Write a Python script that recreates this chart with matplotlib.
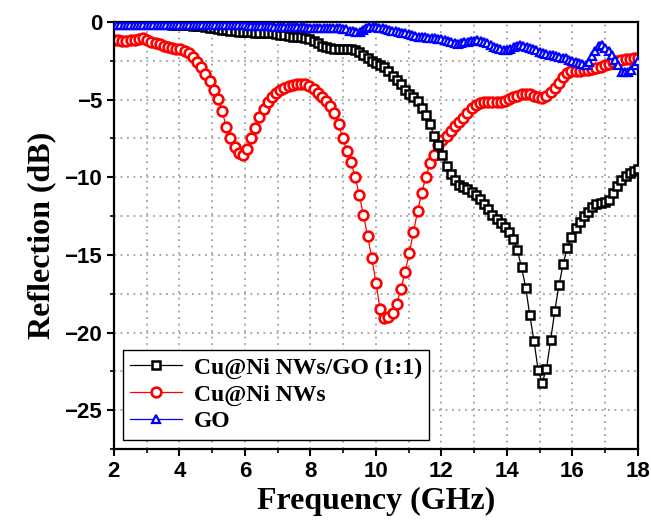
import numpy as np
import matplotlib
matplotlib.use("Agg")
import matplotlib.pyplot as plt

# frequency sweep, 2-18 GHz
freq = np.linspace(2, 18, 127)
freq_go = np.linspace(2, 18, 161)

# Cu@Ni NWs/GO (1:1)
refl_hybrid = [
    -0.1, -0.1, -0.1, -0.11, -0.11, -0.12, -0.12, -0.13,
    -0.13, -0.14, -0.14, -0.15, -0.15, -0.16, -0.17, -0.18,
    -0.19, -0.2, -0.22, -0.24, -0.26, -0.29, -0.32, -0.36,
    -0.4, -0.44, -0.5, -0.54, -0.57, -0.6, -0.62, -0.64,
    -0.66, -0.67, -0.68, -0.68, -0.69, -0.7, -0.73, -0.78,
    -0.83, -0.87, -0.91, -0.94, -0.96, -0.98, -1.02, -1.1,
    -1.2, -1.33, -1.52, -1.64, -1.7, -1.72, -1.73, -1.73,
    -1.73, -1.74, -1.8, -1.93, -2.1, -2.3, -2.5, -2.66,
    -2.8, -2.9, -3.15, -3.47, -3.75, -4.0, -4.35, -4.64,
    -4.85, -5.1, -5.55, -6.0, -6.6, -7.35, -7.95, -8.55,
    -9.3, -9.8, -10.2, -10.47, -10.62, -10.76, -10.93, -11.14,
    -11.4, -11.73, -12.05, -12.4, -12.7, -12.97, -13.22, -13.53,
    -13.95, -14.7, -15.8, -17.1, -18.9, -20.55, -22.42, -23.22,
    -22.32, -20.49, -18.6, -16.95, -15.61, -14.54, -13.83, -13.3,
    -12.87, -12.5, -12.22, -11.94, -11.73, -11.64, -11.58, -11.47,
    -11.0, -10.57, -10.18, -9.92, -9.71, -9.58, -9.49,
]

# Cu@Ni NWs
refl_nws = [
    -1.15, -1.18, -1.2, -1.2, -1.17, -1.14, -1.1, -1.06,
    -1.13, -1.26, -1.35, -1.44, -1.53, -1.64, -1.7, -1.71,
    -1.75, -1.86, -2.03, -2.24, -2.56, -2.93, -3.34, -3.8,
    -4.36, -4.95, -5.72, -6.75, -7.5, -8.05, -8.47, -8.55,
    -8.16, -7.5, -6.8, -6.15, -5.6, -5.15, -4.8, -4.56,
    -4.39, -4.25, -4.13, -4.07, -4.02, -3.98, -4.01, -4.13,
    -4.34, -4.55, -4.85, -5.1, -5.42, -5.88, -6.6, -7.45,
    -8.3, -9.05, -10.0, -11.15, -12.45, -13.8, -15.2, -16.8,
    -18.5, -19.05, -19.0, -18.75, -18.15, -17.2, -16.1, -14.9,
    -13.55, -12.2, -11.0, -10.0, -9.1, -8.55, -7.95, -7.58,
    -7.33, -7.03, -6.73, -6.43, -6.17, -5.87, -5.57, -5.34,
    -5.2, -5.13, -5.13, -5.13, -5.16, -5.16, -5.1, -4.96,
    -4.83, -4.74, -4.66, -4.64, -4.66, -4.74, -4.86, -4.88,
    -4.74, -4.54, -4.23, -3.92, -3.57, -3.3, -3.18, -3.14,
    -3.14, -3.1, -3.07, -3.02, -2.96, -2.87, -2.78, -2.69,
    -2.6, -2.52, -2.43, -2.38, -2.38, -2.35, -2.33,
]

# GO
refl_go = [
    -0.18, -0.18, -0.18, -0.18, -0.18, -0.18, -0.18, -0.18, -0.18, -0.18,
    -0.18, -0.18, -0.17, -0.17, -0.17, -0.17, -0.18, -0.18, -0.18, -0.18,
    -0.17, -0.17, -0.17, -0.17, -0.18, -0.18, -0.18, -0.18, -0.18, -0.19,
    -0.19, -0.19, -0.2, -0.2, -0.2, -0.2, -0.21, -0.21, -0.21, -0.22,
    -0.22, -0.23, -0.24, -0.25, -0.26, -0.27, -0.28, -0.28, -0.29, -0.3,
    -0.3, -0.3, -0.31, -0.31, -0.32, -0.33, -0.33, -0.34, -0.35, -0.36,
    -0.37, -0.37, -0.38, -0.39, -0.4, -0.4, -0.41, -0.42, -0.42, -0.42,
    -0.43, -0.48, -0.56, -0.61, -0.64, -0.62, -0.52, -0.42, -0.35, -0.31,
    -0.32, -0.36, -0.4, -0.44, -0.5, -0.55, -0.6, -0.64, -0.68, -0.72,
    -0.77, -0.83, -0.88, -0.94, -0.98, -1.0, -1.01, -1.03, -1.06, -1.09,
    -1.12, -1.18, -1.24, -1.3, -1.38, -1.42, -1.38, -1.32, -1.26, -1.22,
    -1.2, -1.19, -1.2, -1.28, -1.38, -1.5, -1.6, -1.68, -1.75, -1.8,
    -1.82, -1.72, -1.58, -1.52, -1.5, -1.53, -1.6, -1.66, -1.72, -1.8,
    -1.92, -2.0, -2.05, -2.1, -2.15, -2.2, -2.25, -2.3, -2.35, -2.42,
    -2.5, -2.58, -2.65, -2.72, -2.75, -2.6, -2.2, -1.9, -1.55, -1.5,
    -1.65, -1.9, -2.1, -2.45, -2.8, -3.2, -3.25, -3.25, -3.1, -2.8,
    -2.5,
]

labels = ["Cu@Ni NWs/GO (1:1)", "Cu@Ni NWs", "GO"]

serif = "Liberation Serif"
sans = "Liberation Sans"

fig = plt.figure(figsize=(6.51, 5.23), dpi=100)
ax = fig.add_axes([0.175, 0.1415, 0.805, 0.8165])

ax.plot(freq, refl_hybrid, color="black", lw=0.9, marker="s", ms=6,
        mfc="white", mec="black", mew=1.8, label=labels[0], zorder=3)
ax.plot(freq, refl_nws, color="red", lw=0.9, marker="o", ms=7,
        mfc="white", mec="red", mew=1.9, label=labels[1], zorder=2)
ax.plot(freq_go, refl_go, color="blue", lw=0.9, marker="^", ms=5.5,
        mfc="white", mec="blue", mew=1.6, label=labels[2], zorder=4)

ax.set_xlim(2, 18)
ax.set_ylim(-27.5, 0)
ax.set_xticks(np.arange(2, 19, 2))
ax.set_xticks(np.arange(3, 18, 2), minor=True)
ax.set_yticks(np.arange(-25, 1, 5))
ax.set_yticks(np.arange(-27.5, 0, 5), minor=True)

ax.tick_params(which="major", direction="out", length=5, width=1.5,
               top=False, right=False)
ax.tick_params(which="minor", direction="out", length=3, width=1.2,
               top=False, right=False)

# dotted grid on every major and minor tick
ax.set_axisbelow(True)
ax.grid(True, which="major", color="#a0a0a0", linestyle=(0, (1, 2.6)), linewidth=1.3)
ax.grid(True, which="minor", color="#a0a0a0", linestyle=(0, (1, 2.6)), linewidth=1.3)

for lab in ax.get_xticklabels() + ax.get_yticklabels():
    lab.set_fontfamily(sans)
    lab.set_fontweight("bold")
    lab.set_fontsize(16)

for sp in ax.spines.values():
    sp.set_linewidth(1.6)

ax.set_xlabel("Frequency (GHz)", fontfamily=serif, fontweight="bold",
              fontsize=23, labelpad=4)
ax.set_ylabel("Reflection (dB)", fontfamily=serif, fontweight="bold",
              fontsize=23, labelpad=6)

leg = ax.legend(loc="lower left", bbox_to_anchor=(0.0, 0.0),
                prop={"family": serif, "weight": "bold", "size": 17},
                fancybox=False, edgecolor="black", framealpha=1,
                handlelength=2.2, labelspacing=0.22, borderpad=0.3,
                handletextpad=0.5, borderaxespad=0.4)
leg.get_frame().set_linewidth(1.0)

fig.savefig("out.png", dpi=100)
